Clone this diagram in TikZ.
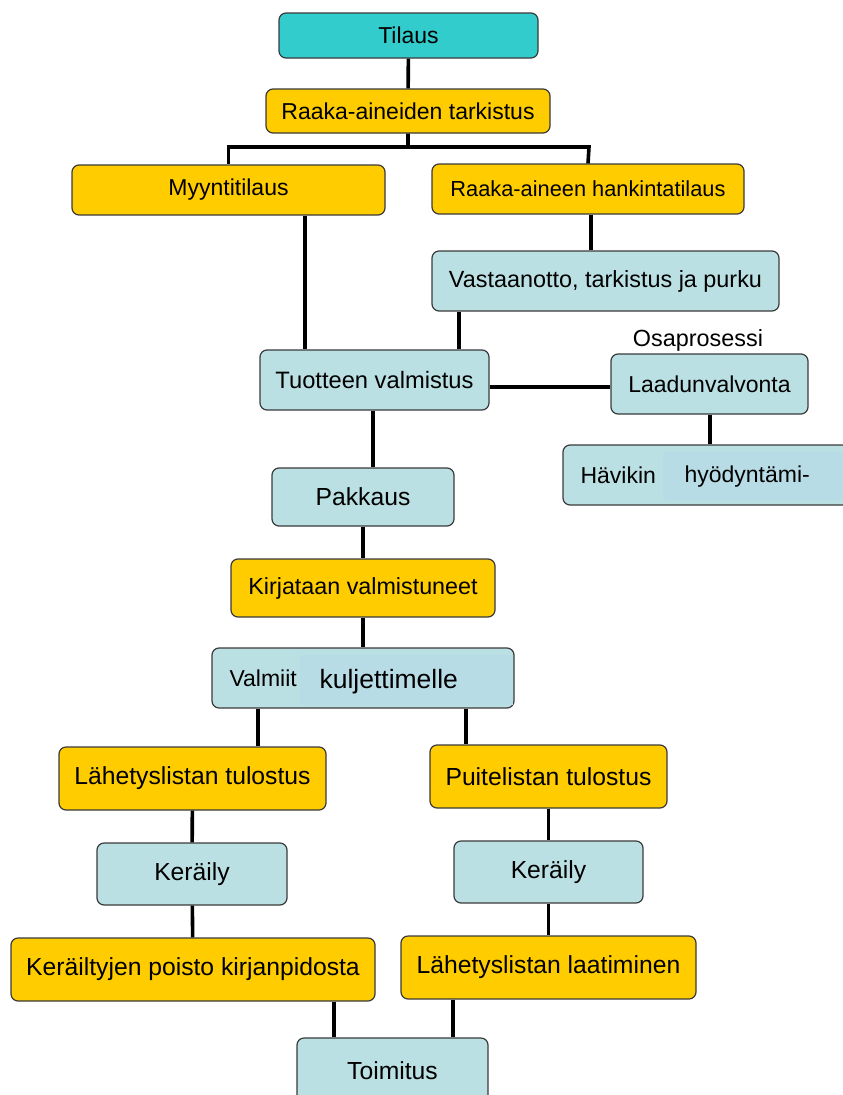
\documentclass[tikz,border=0pt]{standalone}
\usepackage{fontspec}
\setmainfont{Liberation Sans}
\usetikzlibrary{positioning}

\definecolor{tealbox}{HTML}{33CCCC}
\definecolor{goldbox}{HTML}{FFCC00}
\definecolor{bluebox}{HTML}{BBE0E3}
\definecolor{bluepatch}{HTML}{B8DCE6}
\definecolor{edgegray}{HTML}{3A3A3A}

\tikzset{
  box/.style={draw=edgegray, line width=1.2pt, rounded corners=7pt, inner sep=0pt,
    font=\fontsize{23}{27}\selectfont},
  goldstep/.style={box, fill=goldbox},
  bluestep/.style={box, fill=bluebox},
  bigtext/.style={font=\fontsize{24.7}{29}\selectfont},
  link/.style={line width=3.6pt}
}

\begin{document}
\begin{tikzpicture}[x=1pt, y=-1pt]
  \clip (0,0) rectangle (843,1095);

  % Upper part
  \node[box, fill=tealbox, minimum width=259, minimum height=45] (tilaus) at (408.5,35.5) {Tilaus};
  \node[goldstep, minimum width=284, minimum height=44] (tarkistus) at (408,111) {Raaka-aineiden tarkistus};
  \node[goldstep, minimum width=313, minimum height=50] (myynti) at (228.5,190) {Myyntitilaus};
  \node[goldstep, minimum width=312, minimum height=50, font=\fontsize{21.8}{26}\selectfont] (hankinta) at (588,189) {Raaka-aineen hankintatilaus};
  \node[bluestep, minimum width=347, minimum height=60, font=\fontsize{23.4}{27}\selectfont] (vastaanotto) at (605.5,281) {Vastaanotto, tarkistus ja purku};
  \node[bluestep, minimum width=229, minimum height=60, font=\fontsize{23.7}{28}\selectfont] (valmistus) at (374.5,380) {Tuotteen valmistus};

  % Osaprosessi
  \node[bluestep, minimum width=197, minimum height=60] (laatu) at (709.5,384) {Laadunvalvonta};
  \node[font=\fontsize{23.4}{27}\selectfont, anchor=south] (osa) at (698,355) {Osaprosessi};
  \node[bluestep, minimum width=300, minimum height=60] (havikki) at (713,475) {};
  \node[font=\fontsize{23}{27}\selectfont, anchor=west] (havikin) at (577,475) {Hävikin};
  \node[fill=bluepatch, rounded corners=4pt, minimum width=180, minimum height=48, inner sep=0pt] (patchb) at (753,476) {};
  \node[font=\fontsize{23}{27}\selectfont, anchor=west] (hyoty) at (681,477) {hyödyntämi-};

  % Middle part
  \node[bluestep, minimum width=182, minimum height=58, bigtext] (pakkaus) at (363,497) {Pakkaus};
  \node[goldstep, minimum width=264, minimum height=58, font=\fontsize{23.3}{27}\selectfont] (kirjataan) at (363,588) {Kirjataan valmistuneet};
  \node[bluestep, minimum width=302, minimum height=60] (valmiit) at (363,678) {};
  \node[font=\fontsize{23}{27}\selectfont, anchor=west] (valmiittxt) at (226,678) {Valmiit};
  \node[fill=bluepatch, minimum width=213, minimum height=50, inner sep=0pt] (patcha) at (406.5,680) {};
  \node[font=\fontsize{26.5}{30}\selectfont, anchor=west] (kuljetin) at (316,682) {kuljettimelle};

  % Lower part
  \node[goldstep, minimum width=267, minimum height=63, bigtext] (lahtulostus) at (192.5,778.5) {Lähetyslistan tulostus};
  \node[goldstep, minimum width=237, minimum height=63, bigtext] (puite) at (548.5,776.5) {Puitelistan tulostus};
  \node[bluestep, minimum width=190, minimum height=62, bigtext] (keraily1) at (192,874) {Keräily};
  \node[bluestep, minimum width=189, minimum height=62, bigtext] (keraily2) at (548.5,872) {Keräily};
  \node[goldstep, minimum width=364, minimum height=63, bigtext] (poisto) at (193,969.5) {Keräiltyjen poisto kirjanpidosta};
  \node[goldstep, minimum width=295, minimum height=63, bigtext] (laatiminen) at (548.5,967.5) {Lähetyslistan laatiminen};
  \node[bluestep, minimum width=191, minimum height=66, bigtext] (toimitus) at (392.5,1071) {Toimitus};

  % Connectors
  \draw[link] (tilaus) -- (tarkistus);
  \draw[link] (tarkistus.south) |- (228.5,147) -- (myynti.north);
  \draw[link] (tarkistus.south) |- (589,147) -- (hankinta.north);
  \draw[link] (myynti.south -| 305,0) -- (valmistus.north -| 305,0);
  \draw[link] (hankinta.south -| 591,0) -- (vastaanotto.north -| 591,0);
  \draw[link] (vastaanotto.south -| 459,0) -- (valmistus.north -| 459,0);
  \draw[link] (valmistus.east |- 0,387) -- (laatu.west |- 0,387);
  \draw[link] (laatu.south -| 710,0) -- (havikki.north -| 710,0);
  \draw[link] (valmistus.south -| 373,0) -- (pakkaus.north -| 373,0);
  \draw[link] (pakkaus) -- (kirjataan);
  \draw[link] (kirjataan) -- (valmiit);
  \draw[link] (valmiit.south -| 258,0) -- (lahtulostus.north -| 258,0);
  \draw[link] (valmiit.south -| 466,0) -- (puite.north -| 466,0);
  \draw[link] (lahtulostus) -- (keraily1);
  \draw[link] (puite) -- (keraily2);
  \draw[link] (keraily1) -- (poisto);
  \draw[link] (keraily2) -- (laatiminen);
  \draw[link] (poisto.south -| 334,0) -- (toimitus.north -| 334,0);
  \draw[link] (laatiminen.south -| 453,0) -- (toimitus.north -| 453,0);
\end{tikzpicture}
\end{document}
